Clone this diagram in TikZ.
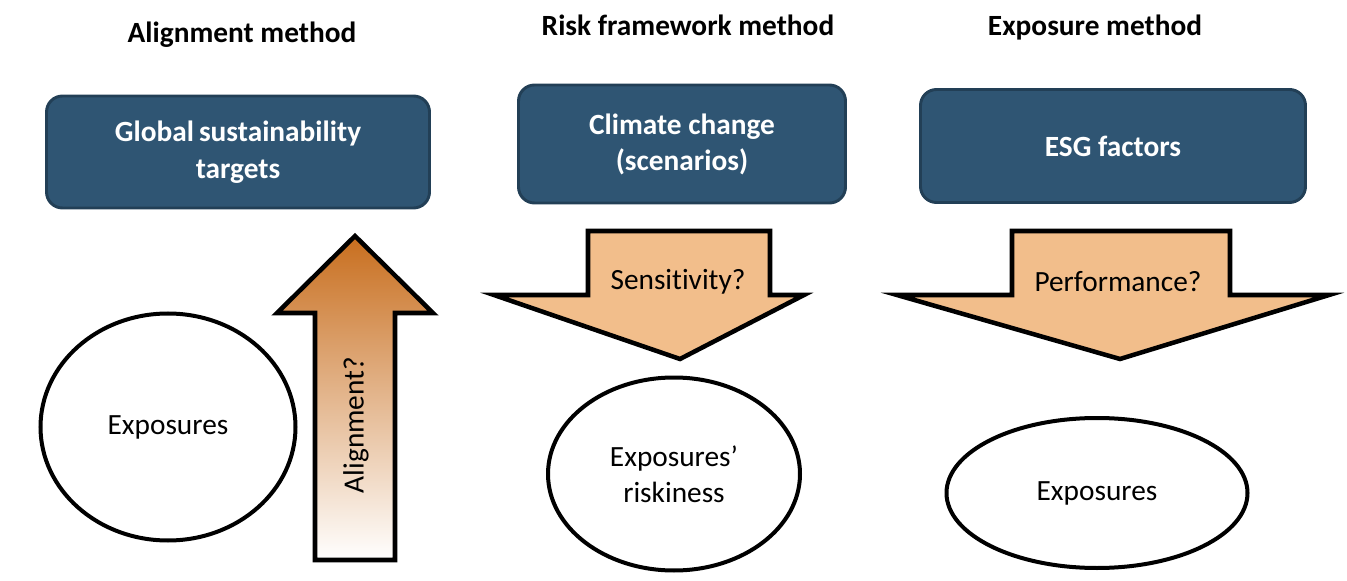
\documentclass[tikz,border=0pt]{standalone}
\usepackage{fontspec}
\setmainfont{Carlito}[Ligatures=NoCommon]
\usepackage{tikz}
\usetikzlibrary{shapes.geometric}
\definecolor{boxblue}{HTML}{2F5573}
\definecolor{boxedge}{HTML}{223F56}
\definecolor{arrowfill}{HTML}{F2BE8B}
\definecolor{arrowdark}{HTML}{C86E1E}
\tikzset{
  title/.style={font=\fontsize{22}{26}\selectfont\bfseries},
  target/.style={draw=boxedge, line width=2.2pt, fill=boxblue, rounded corners=12pt,
    text=white, align=center, font=\fontsize{22}{27}\selectfont\bfseries},
  pool/.style={ellipse, draw, line width=3pt, fill=white, align=center,
    inner sep=0pt, font=\fontsize{22}{27}\selectfont},
  bigarrow/.style={draw, line width=3.4pt, line join=miter},
  question/.style={font=\fontsize{22}{26}\selectfont}
}
\begin{document}
\begin{tikzpicture}[x=0.75pt,y=-0.75pt]
\useasboundingbox (0,0) rectangle (1347,581);

\node[title] (tAlign) at (242,35) {Alignment method};
\node[title] (tRisk) at (688,25) {Risk framework method};
\node[title] (tExpo) at (1095,28) {Exposure method};

\node[target, minimum width=383*0.75pt, minimum height=112*0.75pt] (gst) at (238,152)
  {Global\,sustainability\\[1pt]targets};
\node[target, minimum width=327*0.75pt, minimum height=118*0.75pt] (cc) at (682,144)
  {Climate change\\(scenarios)};
\node[target, minimum width=385*0.75pt, minimum height=113*0.75pt] (esg) at (1113,146)
  {ESG factors};

\node[pool, minimum width=255*0.75pt, minimum height=227*0.75pt] (expA) at (168,427) {Exposures};
\node[pool, minimum width=252*0.75pt, minimum height=193*0.75pt] (expR) at (674,474) {Exposures'\\riskiness};
\node[pool, minimum width=301*0.75pt, minimum height=150*0.75pt] (expE) at (1097,493) {Exposures};

\path[bigarrow, top color=arrowdark, middle color=arrowfill, bottom color=white]
  (315,560) -- (315,313) -- (277,313) -- (355,236) -- (433,313) -- (395,313) -- (395,560) -- cycle;
\node[question, rotate=90] (qAlign) at (356,425) {Alignment?};

\path[bigarrow, fill=arrowfill]
  (588,231) -- (770,231) -- (770,295) -- (804,295) -- (680,359) -- (494,295) -- (588,295) -- cycle;
\node[question] (qSens) at (678,282) {Sensitivity?};

\path[bigarrow, fill=arrowfill]
  (1012,231) -- (1230,231) -- (1230,295) -- (1329,295) -- (1120,359) -- (897,295) -- (1012,295) -- cycle;
\node[question] (qPerf) at (1118,282) {Performance?};
\end{tikzpicture}
\end{document}
